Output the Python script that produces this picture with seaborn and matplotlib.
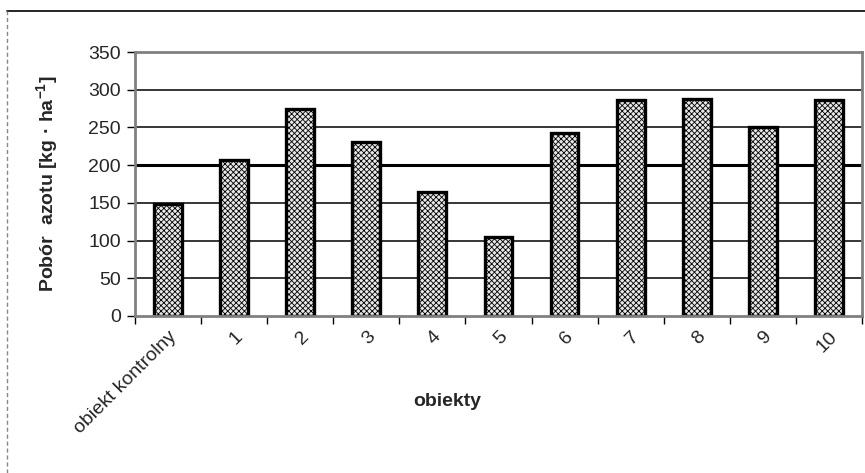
import matplotlib
matplotlib.use("Agg")
import matplotlib.pyplot as plt
import seaborn as sns
import pandas as pd
from matplotlib.lines import Line2D

# values
objects = ["obiekt kontrolny", "1", "2", "3", "4", "5", "6", "7", "8", "9", "10"]
uptake = [148, 207, 274, 231, 164, 105, 243, 286, 288, 251, 286]
y_ticks = [0, 50, 100, 150, 200, 250, 300, 350]

df = pd.DataFrame({"obiekt": objects, "pobor": uptake})

sns.set_style("white")
plt.rcParams["font.family"] = ["Liberation Sans", "DejaVu Sans"]
plt.rcParams["mathtext.fontset"] = "custom"
plt.rcParams["mathtext.bf"] = "Liberation Sans:bold"
plt.rcParams["mathtext.rm"] = "Liberation Sans:bold"
plt.rcParams["hatch.linewidth"] = 0.6

fig = plt.figure(figsize=(8.65, 4.73), dpi=100)
ax = fig.add_axes([0.156, 0.332, 0.8405, 0.558])

sns.barplot(data=df, x="obiekt", y="pobor", ax=ax, width=0.42,
            color="#e8e8e8", edgecolor="black", linewidth=2.4, hatch="xxxxxx",
            saturation=1)

ax.set_ylim(0, 350)
ax.set_yticks(y_ticks)
ax.set_xlim(-0.5, len(objects) - 0.5)

# horizontal grid lines (200 drawn heavier as in the original)
for v in y_ticks[1:-1]:
    ax.axhline(v, color="black", lw=2.2 if v == 200 else 1.1, zorder=0)

for s in ax.spines.values():
    s.set_color("#808080")
    s.set_linewidth(2)

ax.tick_params(axis="y", direction="out", length=6, width=1, color="black",
               labelsize=14, pad=4, left=True)
ax.tick_params(axis="x", direction="out", length=6, width=1, color="black",
               labelsize=14, pad=9, bottom=True)
# x ticks at category boundaries
ax.set_xticks([i - 0.5 for i in range(len(objects) + 1)], minor=True)
ax.tick_params(axis="x", which="minor", direction="out", length=6, width=1,
               color="black", bottom=True)
ax.tick_params(axis="x", which="major", length=0)
ax.set_xticks(range(len(objects)))
ax.set_xticklabels(objects, rotation=45, ha="right", rotation_mode="anchor")

ax.set_ylabel(r"Pobór  azotu [kg · ha$^{-1}$]", fontsize=14, fontweight="bold",
              labelpad=20)
ax.set_xlabel("obiekty", fontsize=14, fontweight="bold")
ax.xaxis.set_label_coords(0.429, -0.29)

# frame of the original chart area
fig.add_artist(Line2D([0.008, 1.0], [0.977, 0.977], transform=fig.transFigure,
                      color="black", lw=1.2))
fig.add_artist(Line2D([0.008, 0.008], [0.0, 0.977], transform=fig.transFigure,
                      color="#888888", lw=1, ls=(0, (3, 2))))

fig.savefig("out.png", dpi=100)
